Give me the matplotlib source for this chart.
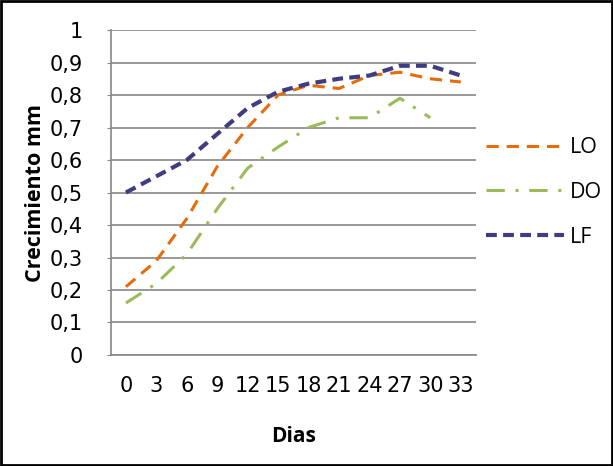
import numpy as np
import matplotlib
matplotlib.use('Agg')
import matplotlib.pyplot as plt
from matplotlib.patches import Rectangle

dias = ['0', '3', '6', '9', '12', '15', '18', '21', '24', '27', '30', '33']
lo = [0.21, 0.29, 0.42, 0.58, 0.70, 0.80, 0.83, 0.82, 0.86, 0.87, 0.85, 0.84]
do = [0.16, 0.22, 0.31, 0.45, 0.575, 0.64, 0.70, 0.73, 0.73, 0.79, 0.73, np.nan]
lf = [0.50, 0.55, 0.60, 0.68, 0.76, 0.81, 0.835, 0.85, 0.86, 0.89, 0.89, 0.86]
yticks = [0, 0.1, 0.2, 0.3, 0.4, 0.5, 0.6, 0.7, 0.8, 0.9, 1]
ylabels = ['0', '0,1', '0,2', '0,3', '0,4', '0,5', '0,6', '0,7', '0,8', '0,9', '1']

plt.rcParams['font.family'] = ['Open Sans', 'DejaVu Sans']

fig = plt.figure(figsize=(6.13, 4.66), dpi=100)
ax = fig.add_axes([0.1806, 0.2382, 0.5959, 0.6974])

x = np.arange(len(dias))
ax.plot(x, lo, color='#E46C0A', lw=2.2, dashes=(4, 2.6), label='LO')
ax.plot(x, do, color='#9BBB59', lw=2.2, dashes=(6, 3.5, 1, 3.5), label='DO')
ax.plot(x, lf, color='#403C80', lw=3.0, dashes=(2.6, 1.5), label='LF')

# digits in the original are wide, so the x labels run together
tick_font = dict(family='DejaVu Sans', size=15)
ax.set_xlim(-0.5, len(dias) - 0.5)
ax.set_ylim(0, 1)
ax.set_xticks(x)
ax.set_xticklabels(dias, fontdict=tick_font)
ax.set_yticks(yticks)
ax.set_yticklabels(ylabels, fontdict=tick_font)
ax.tick_params(axis='x', length=0, pad=15)
ax.tick_params(axis='y', length=3, color='#868686', pad=17)
ax.yaxis.grid(True, color='#868686', lw=1.2)
ax.set_axisbelow(True)
for s in ['top', 'right']:
    ax.spines[s].set_visible(False)
for s in ['left', 'bottom']:
    ax.spines[s].set_color('#868686')
    ax.spines[s].set_linewidth(1.2)

ax.set_xlabel('Dias', fontsize=15, fontweight='bold', labelpad=22)
ax.set_ylabel('Crecimiento mm', fontsize=15.5, fontweight='bold', labelpad=3)

ax.legend(loc='center left', bbox_to_anchor=(0.975, 0.50), frameon=False,
          fontsize=15.5, handlelength=3.6, handletextpad=0.3, labelspacing=1.1)

fig.patches.append(Rectangle((0.002, 0.003), 0.996, 0.994, transform=fig.transFigure,
                             fill=False, edgecolor='black', lw=2))

fig.savefig('out.png', dpi=100)
